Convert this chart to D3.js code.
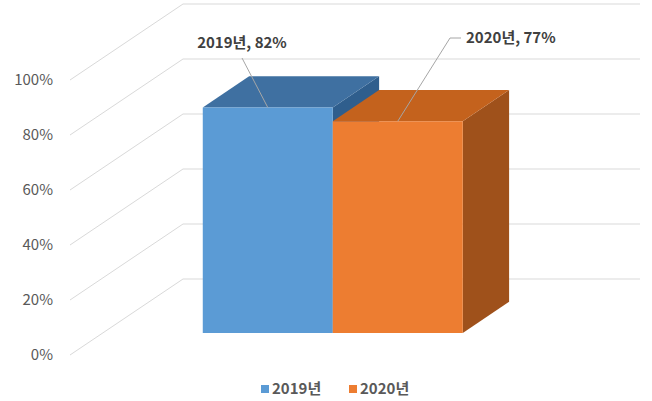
<!DOCTYPE html>
<html>
<head>
<meta charset="utf-8">
<script src="https://cdn.jsdelivr.net/npm/d3@7/dist/d3.min.js"></script>
<style>
  html, body { margin: 0; padding: 0; background: #ffffff; }
  svg { display: block; }
  text { font-family: "Malgun Gothic", "Noto Sans CJK KR", "Noto Sans", sans-serif; }
</style>
</head>
<body>
<svg id="chart" width="652" height="401"></svg>
<script>
// Chart data
const seriesNames = ["2019년", "2020년"];
const seriesValues = [0.82, 0.77];
const tickValues = [0, 0.2, 0.4, 0.6, 0.8, 1.0];
const tickLabels = ["0%", "20%", "40%", "60%", "80%", "100%"];
const seriesColors = [
  { front: "#5b9bd5", top: "#3f70a1", side: "#2f5e8d" },
  { front: "#ed7d31", top: "#c4621d", side: "#9f511b" }
];

const W = 652, H = 401;
const svg = d3.select("#chart").attr("width", W).attr("height", H);

// Oblique projection: back wall at depth 0, front edge of the floor at depth 1
const depthDX = -113, depthDY = 76;
const yBack = d3.scaleLinear().domain([0, 1]).range([279, 4]);
const wallX = [183, 640];
const x = d3.scaleBand().domain(seriesNames).range([283, 543]).padding(0);
const barDepth = [0.30, 0.71]; // back and front depth of the columns

function proj(px, v, z) {
  return [px + z * depthDX, yBack(v) + z * depthDY];
}

// Gridlines: back wall horizontals plus the floor/side wall diagonals
const grid = svg.append("g").attr("stroke", "#d9d9d9").attr("stroke-width", 1).attr("fill", "none");
tickValues.forEach(v => {
  const a = proj(wallX[0], v, 0), b = proj(wallX[1], v, 0), c = proj(wallX[0], v, 1);
  grid.append("line").attr("x1", a[0]).attr("y1", a[1]).attr("x2", b[0]).attr("y2", b[1]);
  grid.append("line").attr("x1", a[0]).attr("y1", a[1]).attr("x2", c[0]).attr("y2", c[1]);
});

// Axis labels on the front edge
const axis = svg.append("g");
tickValues.forEach((v, i) => {
  const p = proj(wallX[0], v, 1);
  axis.append("text")
    .attr("x", 53).attr("y", p[1] + 1)
    .attr("text-anchor", "end").attr("dominant-baseline", "middle")
    .attr("font-size", 15).attr("fill", "#595959")
    .text(tickLabels[i]);
});

// 3D columns
const line = d3.line();
const bars = svg.append("g");
seriesNames.forEach((name, i) => {
  const v = seriesValues[i];
  const x0 = x(name), x1 = x(name) + x.bandwidth();
  const [zb, zf] = barDepth;
  const c = seriesColors[i];
  const top = [proj(x0, v, zf), proj(x1, v, zf), proj(x1, v, zb), proj(x0, v, zb)];
  const side = [proj(x1, v, zf), proj(x1, v, zb), proj(x1, 0, zb), proj(x1, 0, zf)];
  const front = [proj(x0, v, zf), proj(x1, v, zf), proj(x1, 0, zf), proj(x0, 0, zf)];
  bars.append("path").attr("d", line(side) + "Z").attr("fill", c.side);
  bars.append("path").attr("d", line(top) + "Z").attr("fill", c.top);
  bars.append("path").attr("d", line(front) + "Z").attr("fill", c.front);
});

// Data labels with leader lines to the middle of each column's top front edge
const labels = svg.append("g");
const labelPos = [
  { tx: 242, ty: 44, anchor: "middle", lead: [[242, 58]] },
  { tx: 466, ty: 39, anchor: "start", lead: [[461, 38], [450, 38]] }
];
seriesNames.forEach((name, i) => {
  const v = seriesValues[i];
  const end = proj(x(name) + x.bandwidth() / 2, v, barDepth[1]);
  const L = labelPos[i];
  labels.append("path")
    .attr("d", line(L.lead.concat([end])))
    .attr("fill", "none").attr("stroke", "#a6a6a6").attr("stroke-width", 1);
  labels.append("text")
    .attr("x", L.tx).attr("y", L.ty)
    .attr("text-anchor", L.anchor).attr("dominant-baseline", "middle")
    .attr("font-size", 15).attr("font-weight", "bold").attr("fill", "#404040")
    .text(name + ", " + d3.format(".0%")(v));
});

// Legend
const legendX = [261, 349];
const legend = svg.append("g");
seriesNames.forEach((name, i) => {
  legend.append("rect")
    .attr("x", legendX[i]).attr("y", 385).attr("width", 8).attr("height", 8)
    .attr("fill", seriesColors[i].front);
  legend.append("text")
    .attr("x", legendX[i] + 11).attr("y", 390)
    .attr("dominant-baseline", "middle")
    .attr("font-size", 15).attr("font-weight", "bold").attr("fill", "#595959")
    .text(name);
});
</script>
</body>
</html>
